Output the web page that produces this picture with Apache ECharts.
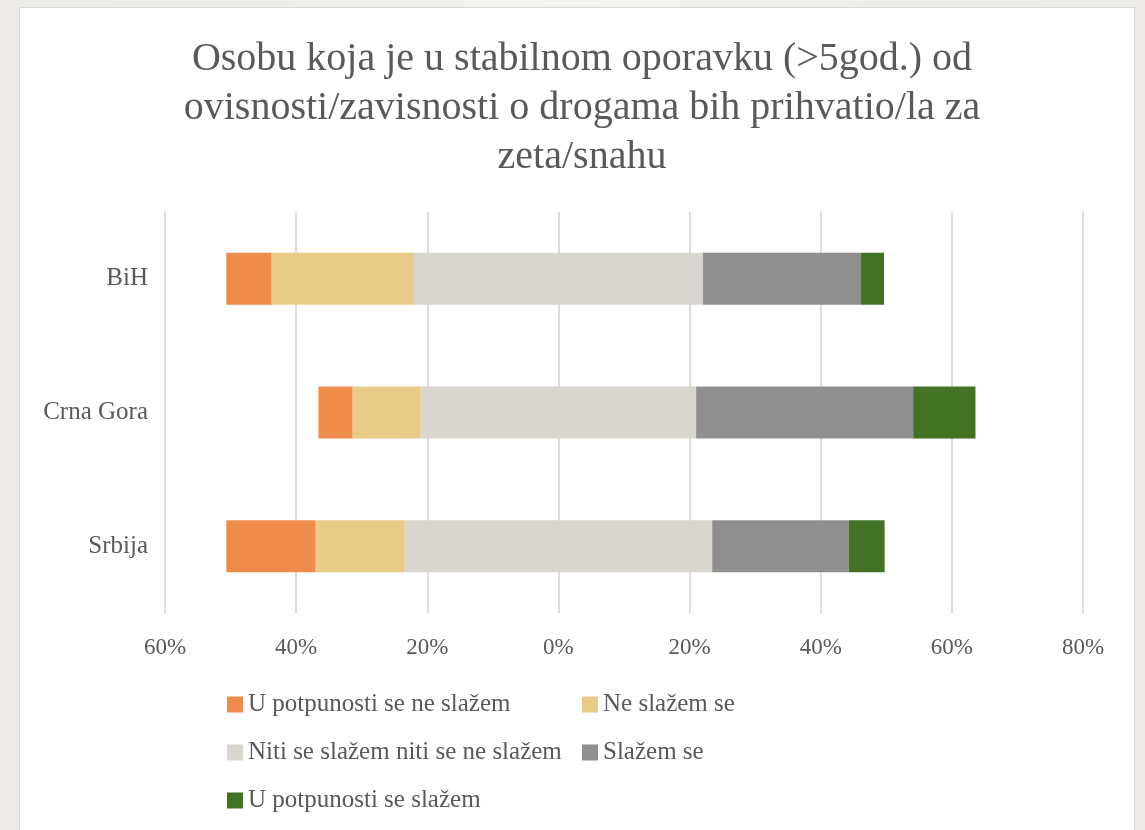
<!DOCTYPE html>
<html>
<head>
<meta charset="utf-8">
<script src="https://cdn.jsdelivr.net/npm/echarts@6/dist/echarts.min.js"></script>
<style>
  html, body { margin: 0; padding: 0; width: 1145px; height: 830px; overflow: hidden;
    background: linear-gradient(90deg, #ecebe7 0%, #f3f2ef 50%, #ecebe7 100%); }
  #panel { position: absolute; left: 19px; top: 7px; width: 1114px; height: 840px;
    background: #fff; border: 1px solid #d9d9d9; }
  #chart { position: absolute; left: 0; top: 0; width: 1145px; height: 830px; }
</style>
</head>
<body>
<div id="panel"></div>
<div id="chart"></div>
<script>
    // kategorije i odgovori (u %)
    var categories = ['BiH', 'Crna Gora', 'Srbija'];
    var stronglyDisagree = [6.9, 5.2, 13.6];   // U potpunosti se ne slažem
    var disagree = [21.7, 10.4, 13.6];         // Ne slažem se
    var neutral = [44.1, 42.0, 46.9];          // Niti se slažem niti se ne slažem
    var agree = [24.1, 33.1, 20.8];            // Slažem se
    var stronglyAgree = [3.5, 9.5, 5.5];       // U potpunosti se slažem
    var xTicks = [-60, 80, 20];                // min, max, interval

    var names = ['U potpunosti se ne slažem', 'Ne slažem se', 'Niti se slažem niti se ne slažem',
        'Slažem se', 'U potpunosti se slažem'];
    var colors = ['#f08c4b', '#e8cb86', '#d9d5cf', '#8f8f8f', '#427325'];
    var font = "'Liberation Serif', serif";
    var textColor = '#595959';

    var myChart = echarts.init(document.getElementById('chart'));

    function neg(arr) { return arr.map(function (v) { return -v; }); }
    function bar(name, data, color) {
        return {
            name: name, type: 'bar', stack: 'likert', barWidth: 52,
            itemStyle: { color: color },
            data: data
        };
    }

    var legendText = { fontFamily: font, fontSize: 25, color: textColor };

    var option = {
        animation: false,
        textStyle: { fontFamily: font },
        title: {
            text: 'Osobu koja je u stabilnom oporavku (>5god.) od\novisnosti/zavisnosti o drogama bih prihvatio/la za\nzeta/snahu',
            left: 577, top: 30, textAlign: 'center',
            textStyle: { fontFamily: font, fontWeight: 'normal', fontSize: 40, lineHeight: 49, color: textColor }
        },
        legend: [{
            orient: 'vertical', left: 222, top: 687, itemGap: 23,
            icon: 'rect', itemWidth: 16, itemHeight: 16,
            textStyle: legendText,
            data: [names[0], names[2], names[4]]
        }, {
            orient: 'vertical', left: 577, top: 687, itemGap: 23,
            icon: 'rect', itemWidth: 16, itemHeight: 16,
            textStyle: legendText,
            data: [names[1], names[3]]
        }],
        grid: { left: 165, right: 62, top: 212, bottom: 217 },
        xAxis: {
            type: 'value', min: xTicks[0], max: xTicks[1], interval: xTicks[2],
            axisLine: { show: false }, axisTick: { show: false },
            splitLine: { lineStyle: { color: '#dcdcdc', width: 2 } },
            axisLabel: {
                margin: 23, fontSize: 23, color: textColor, fontFamily: font,
                formatter: function (v) { return Math.abs(v) + '%'; }
            }
        },
        yAxis: {
            type: 'category', inverse: true, data: categories,
            axisLine: { show: false }, axisTick: { show: false },
            axisLabel: { margin: 17, fontSize: 25, color: textColor, fontFamily: font }
        },
        series: [
            bar(names[2], neg(neutral.map(function (v) { return v / 2; })), colors[2]),
            bar(names[2], neutral.map(function (v) { return v / 2; }), colors[2]),
            bar(names[1], neg(disagree), colors[1]),
            bar(names[3], agree, colors[3]),
            bar(names[0], neg(stronglyDisagree), colors[0]),
            bar(names[4], stronglyAgree, colors[4])
        ]
    };
    myChart.setOption(option);
</script>
</body>
</html>
